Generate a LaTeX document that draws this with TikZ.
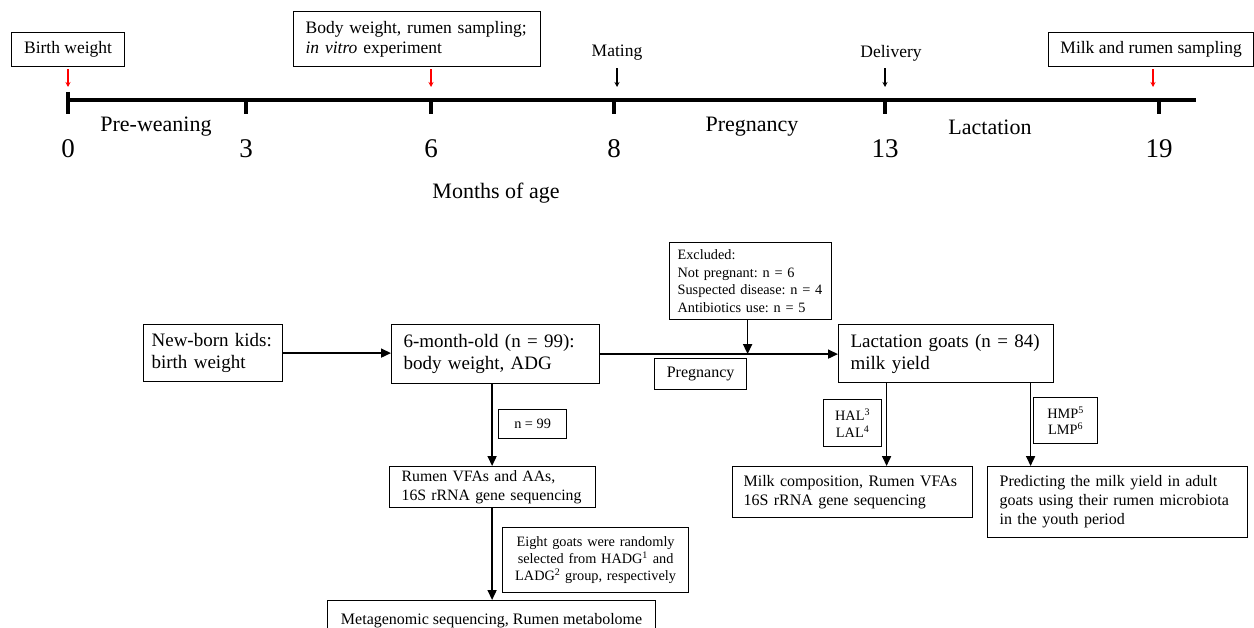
\documentclass[tikz,border=0pt]{standalone}
\usepackage{fontspec}
\setmainfont{Liberation Serif}
\usetikzlibrary{arrows.meta,positioning}
\frenchspacing

\tikzset{
  box/.style={draw, line width=1.2pt, anchor=north west, inner ysep=2pt},
  flow/.style={-{Triangle[length=10pt,width=9pt]}, line width=1.6pt},
  tickarrow/.style={-{Stealth[length=5pt,width=5pt]}, line width=1.8pt},
  fa/.style={font=\fontsize{17.5}{20}\selectfont},
  fb/.style={font=\fontsize{19}{22}\selectfont},
  fc/.style={font=\fontsize{14.3}{17.5}\selectfont},
  fd/.style={font=\fontsize{16}{19}\selectfont},
  fe/.style={font=\fontsize{22}{26}\selectfont},
}

\begin{document}
\begin{tikzpicture}[x=1pt, y=-1pt]
  \useasboundingbox (0,0) rectangle (1254,628);

  %% Timeline
  \draw[line width=4.5pt] (68,100) -- (1196,100);
  \draw[line width=4pt] (68,92) -- (68,100);
  \foreach \x/\m in {68/0,246/3,431/6,614/8,885/13,1159/19}{
    \draw[line width=4pt] (\x,100) -- (\x,114);
    \node[font=\fontsize{27}{30}\selectfont] (t\m) at (\x,149) {\m};
  }
  \node[fe] (prew) at (156,127) {Pre-weaning};
  \node[fe] (pregt) at (752,127) {Pregnancy};
  \node[fe] (lactt) at (990,127) {Lactation};
  \node[fe] (months) at (496,193) {Months of age};

  %% Events above the timeline
  \node[box, fa, minimum width=113pt, minimum height=34pt] (birth) at (11,32) {Birth weight};
  \node[box, fa, align=left, inner xsep=12pt, text width=223pt, minimum height=55pt] (body) at (293,11)
    {Body weight, rumen sampling;\\\textit{in vitro} experiment};
  \node[box, fa, minimum width=205pt, minimum height=34pt] (milks) at (1048,32) {Milk and rumen sampling};
  \node[font=\fontsize{17.5}{20}\selectfont] (mating) at (617,53) {Mating};
  \node[font=\fontsize{17.5}{20}\selectfont] (deliv) at (891,53) {Delivery};

  \coordinate (m0) at (68,87);
  \coordinate (m6) at (431,87);
  \coordinate (m8) at (617,87);
  \coordinate (m13) at (885,87);
  \coordinate (m19) at (1153,87);
  \draw[tickarrow, red] ([yshift=-2pt]birth.south -| m0) -- (m0);
  \draw[tickarrow, red] ([yshift=-2pt]body.south -| m6) -- (m6);
  \draw[tickarrow] ([yshift=-4pt]mating.south -| m8) -- (m8);
  \draw[tickarrow] ([yshift=-4pt]deliv.south -| m13) -- (m13);
  \draw[tickarrow, red] ([yshift=-2pt]milks.south -| m19) -- (m19);

  %% Flow chart
  \node[box, fb, align=left, inner xsep=8pt, text width=123pt, minimum height=57pt] (kids) at (143,324)
    {New-born kids:\\birth weight};
  \node[box, fb, align=left, inner xsep=12pt, text width=184pt, minimum height=59pt] (six) at (391,324)
    {6-month-old (n = 99):\\body weight, ADG};
  \node[box, fb, align=left, inner xsep=12pt, text width=191pt, minimum height=58pt] (lact) at (838,324)
    {Lactation goats (n = 84)\\milk yield};
  \node[box, fc, align=left, inner xsep=8pt, text width=146pt, minimum height=77pt] (excl) at (669,242)
    {Excluded:\\Not pregnant: n = 6\\Suspected disease: n = 4\\Antibiotics use: n = 5};
  \node[box, fd, minimum width=92pt, minimum height=31pt] (preg) at (654,358) {Pregnancy};

  \node[box, fc, minimum width=68pt, minimum height=29pt] (n99) at (498,409) {n = 99};
  \node[box, font=\fontsize{15.8}{18.5}\selectfont, align=left, inner xsep=12pt, text width=182pt, minimum height=41pt] (vfa) at (389,466)
    {Rumen VFAs and AAs,\\ 16S rRNA gene sequencing};
  \node[box, font=\fontsize{14.3}{16.8}\selectfont, align=center, inner xsep=4pt, text width=178pt, minimum height=65pt] (eight) at (502,527)
    {Eight goats were randomly\\selected from HADG\textsuperscript{1} and\\LADG\textsuperscript{2} group, respectively};
  \node[box, fd, minimum width=328pt, minimum height=40pt] (meta) at (327,600)
    {Metagenomic sequencing, Rumen metabolome};

  \node[box, font=\fontsize{14.3}{16.5}\selectfont, align=center, inner xsep=2pt, minimum width=58pt, minimum height=47pt] (hal) at (823,399)
    {HAL\textsuperscript{3}\\LAL\textsuperscript{4}};
  \node[box, font=\fontsize{14.3}{16.5}\selectfont, align=center, inner xsep=2pt, minimum width=64pt, minimum height=46pt] (hmp) at (1033,397)
    {HMP\textsuperscript{5}\\LMP\textsuperscript{6}};
  \node[box, fd, align=left, inner xsep=11pt, text width=218pt, minimum height=51pt] (milkc) at (732,466)
    {Milk composition, Rumen VFAs\\16S rRNA gene sequencing};
  \node[box, fd, align=left, inner xsep=12pt, text width=236pt, minimum height=71pt] (pred) at (987,466)
    {Predicting the milk yield in adult\\goats using their rumen microbiota\\in the youth period};

  \draw[flow] (kids.east) -- (kids.east -| six.west);
  \draw[flow] (six.east) -- (six.east -| lact.west);
  \draw[flow] ([xshift=-3pt]excl.south) -- ([xshift=-3pt]excl.south |- six.east);
  \draw[flow] ([xshift=-3.5pt]six.south) -- ([xshift=-3.5pt]six.south |- vfa.north);
  \draw[flow] ([xshift=-3.5pt]vfa.south -| six.south) -- ([xshift=-3.5pt]six.south |- meta.north);
  \draw[flow] ([xshift=-59.5pt]lact.south) -- ([xshift=-59.5pt]lact.south |- milkc.north);
  \draw[flow] ([xshift=84.5pt]lact.south) -- ([xshift=84.5pt]lact.south |- pred.north);
\end{tikzpicture}
\end{document}
